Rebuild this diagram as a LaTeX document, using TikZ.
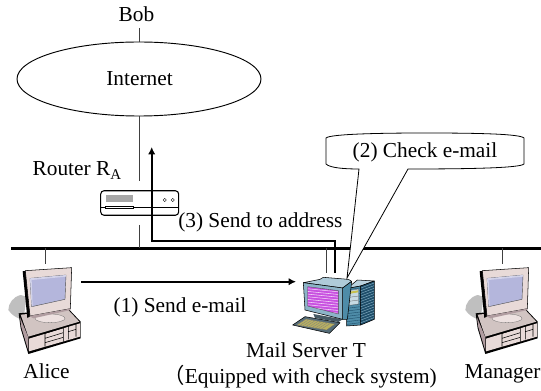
\documentclass[tikz,border=0pt]{standalone}
\usepackage{fontspec}
\setmainfont{Liberation Serif}
\newfontfamily\cjk{Noto Sans CJK SC}
\usetikzlibrary{arrows.meta,shapes.geometric}
\definecolor{pcpink}{HTML}{E8DAD8}
\definecolor{pcmauve}{HTML}{B09CA0}
\definecolor{pcscreen}{HTML}{B4B6DC}
\definecolor{srvblue}{HTML}{4E8CA8}
\definecolor{srvdark}{HTML}{1E4E6A}
\definecolor{srvframe}{HTML}{8CB4C8}
\definecolor{srvpurple}{HTML}{C850E0}
\definecolor{khakitwo}{HTML}{B8B060}
\tikzset{
  txt/.style={font=\fontsize{16}{18}\selectfont,inner sep=0pt},
  thinline/.style={draw=black!75,line width=0.6pt},
  busline/.style={draw=black,line width=1.6pt},
  arrowline/.style={draw=black,line width=1.5pt,-{Latex[length=5.5pt,width=5.5pt]}},
  pcline/.style={draw=black,line width=0.4pt,line join=round},
}
\newcommand{\pcdraw}{%
  \fill[black!25] (62,195) .. controls (40,200) and (25,220) .. (25,240) .. controls (35,255) and (50,265) .. (70,270) -- (80,200) -- cycle;
  \fill[black] (56,250) -- (205,236) -- (242,275) -- (242,325) -- (85,372) -- (62,295) -- cycle;
  \fill[pcmauve] (60,262) -- (85,322) -- (85,362) -- (64,292) -- cycle;
  \fill[pcpink!90!black] (62,254) -- (205,240) -- (238,275) -- (85,320) -- cycle;
  \fill[pcpink] (87,326) -- (240,280) -- (240,320) -- (87,364) -- cycle;
  \draw[pcline] (135,310) -- (135,350) (190,293) -- (190,335) (135,310) -- (190,293) (135,325) -- (190,308) (135,338) -- (190,322);
  \draw[pcline] (205,288) -- (205,328) (228,282) -- (228,320) (205,305) -- (228,298);
  \fill[pcpink!80!white,draw=black!60,line width=0.2pt] (150,265) ellipse [x radius=45,y radius=13];
  \fill[black] (68,124) -- (80,122) -- (92,258) -- (82,264) -- cycle;
  \filldraw[fill=pcpink,pcline] (76,122) -- (215,113) -- (211,236) -- (90,258) -- cycle;
  \fill[pcmauve] (88,258) -- (210,236) -- (212,240) -- (100,265) -- cycle;
  \fill[pcscreen,draw=black!70,line width=0.3pt] (90,145) -- (198,135) -- (195,208) -- (95,230) -- cycle;
  \fill[white!40!pcscreen] (90,145) -- (198,135) -- (198,140) -- (95,150) -- (98,228) -- (95,230) -- cycle;
}
\newcommand{\srvdraw}{%
  \filldraw[fill=srvframe!60!white,pcline] (232,205) -- (262,180) -- (313,183) -- (272,198) -- cycle;
  \filldraw[fill=srvblue,pcline] (230,206) -- (272,198) -- (272,315) -- (230,318) -- cycle;
  \filldraw[fill=srvdark,pcline] (272,198) -- (313,183) -- (313,298) -- (272,315) -- cycle;
  \foreach \yy in {204,212,...,312} {
    \draw[srvdark,line width=0.3pt] (231,\yy+5) -- (271,\yy);
    \draw[srvframe,line width=0.3pt] (273,\yy) -- (312,\yy-15);
  }
  \fill[srvframe!50!white,draw=black!60,line width=0.2pt] (237,212) -- (266,207) -- (266,252) -- (237,256) -- cycle;
  \fill[khakitwo!80!yellow] (240,215) -- (264,211) -- (264,217) -- (240,221) -- cycle;
  \draw[black!60,line width=0.25pt] (237,232) -- (266,228) (237,244) -- (266,240);
  \filldraw[fill=srvframe!60!black,pcline] (68,315) -- (105,290) -- (210,308) -- (178,340) -- cycle;
  \fill[khakitwo,draw=black!60,line width=0.2pt] (80,315) -- (108,297) -- (195,312) -- (170,330) -- cycle;
  \foreach \kk in {0,1,...,8} {\draw[black!50,line width=0.25pt] (108+9*\kk,297+1.7*\kk) -- (80+9*\kk,315+1.7*\kk);}
  \fill[srvframe!50!black] (130,282) -- (218,298) -- (205,306) -- (135,294) -- cycle;
  \filldraw[fill=srvframe!70!white,pcline] (100,188) -- (150,178) -- (160,172) -- (235,178) -- (245,184) -- (218,204) -- cycle;
  \filldraw[fill=srvblue,pcline] (218,204) -- (245,184) -- (232,298) -- (218,298) -- cycle;
  \filldraw[fill=srvframe,pcline] (100,188) -- (218,204) -- (218,298) -- (105,270) -- cycle;
  \begin{scope}
    \clip (113,200) -- (205,212) -- (205,282) -- (113,258) -- cycle;
    \fill[srvpurple] (100,190) rectangle (215,290);
    \foreach \yy in {190,198,...,286} {\draw[white!80!srvpurple,line width=0.4pt] (110,\yy) -- (210,\yy+10);}
  \end{scope}
  \draw[black!70,line width=0.25pt] (113,200) -- (205,212) -- (205,282) -- (113,258) -- cycle;
}
\begin{document}
\begin{tikzpicture}[x=0.75pt,y=-0.75pt]
\useasboundingbox (0,0) rectangle (541,391);
\fill[white] (0,0) rectangle (541,391);
\coordinate (busL) at (11,248.5);
\coordinate (busR) at (541,248.5);
\draw[busline] (busL) -- (busR);
\node[txt,anchor=base] (bob) at (136.5,22) {Bob};
\coordinate (bobEnd) at (139,28);
\node[draw=black,line width=0.7pt,ellipse,inner sep=0pt,minimum width=183pt,minimum height=55.5pt] (internet) at (139,79) {};
\node[txt,anchor=base] (internetlabel) at (139.5,86) {Internet};
\node[txt,anchor=base east] (routerlabel) at (122,176) {Router R$_{\mathrm{A}}$};
\node[draw=black,line width=0.8pt,rounded corners=2.5pt,minimum width=58.5pt,minimum height=18.4pt,inner sep=0pt] (router) at (139.7,203) {};
\fill[black!35] (105.5,195) rectangle (133,202);
\draw[black,line width=0.5pt] (router.west |- 0,207) -- (router.east |- 0,207);
\draw[black,line width=0.5pt,fill=white] (105.5,206) rectangle (133,208.3);
\draw[black,line width=0.3pt] (164.7,200) circle (1.6) (172.7,200) circle (1.6);
\coordinate (inetR) at (139,181);
\coordinate (rBus) at (139,225);
\coordinate (rBusEnd) at (139,248);
\draw[thinline] (bobEnd) -- (internet.north);
\draw[thinline] (internet.south) -- (inetR);
\draw[thinline] (rBus) -- (rBusEnd);
\begin{scope}[x=0.25pt,y=-0.25pt,shift={(0,690)}]
  \pcdraw
\end{scope}
\begin{scope}[x=0.25pt,y=-0.25pt,shift={(1371,690)}]
  \pcdraw
\end{scope}
\begin{scope}[x=0.25pt,y=-0.25pt,shift={(810,660)}]
  \srvdraw
\end{scope}
\coordinate (aliceTop) at (45,264);
\coordinate (aliceBus) at (45,248);
\coordinate (mgrTop) at (502,264);
\coordinate (mgrBus) at (502,248);
\coordinate (srvTop) at (326.5,273);
\coordinate (srvBus) at (326.5,248);
\draw[thinline] (aliceBus) -- (aliceTop);
\draw[thinline] (mgrBus) -- (mgrTop);
\draw[thinline] (srvBus) -- (srvTop);
\coordinate (a1s) at (81,281.7);
\coordinate (a1e) at (296,281.7);
\draw[arrowline] (a1s) -- (a1e);
\coordinate (a3s) at (335,273);
\coordinate (a3m) at (335,240.5);
\coordinate (a3c) at (151.7,240.5);
\coordinate (a3e) at (151.7,147);
\draw[arrowline,line join=miter] (a3s) -- (a3m) -- (a3c) -- (a3e);
\coordinate (tip) at (347,278);
\filldraw[fill=white,draw=black,line width=0.6pt,line join=miter]
  (326,138) .. controls (330,134) and (380,133) .. (425,133)
  .. controls (480,133) and (520,134) .. (524,138) -- (524,164)
  .. controls (520,168) and (470,169) .. (408,169) -- (tip) -- (359,169)
  .. controls (345,169) and (330,168) .. (326,164) -- cycle;
\node[txt,anchor=base] (check) at (425,158) {(2) Check e-mail};
\node[txt,anchor=base west] (send3) at (178,228) {(3) Send to address};
\node[txt,anchor=base] (send1) at (180,312) {(1) Send e-mail};
\node[txt,anchor=base] (alice) at (46.5,378) {Alice};
\node[txt,anchor=base] (manager) at (502.5,378) {Manager};
\node[txt,anchor=base] (mail) at (306,357) {Mail Server T};
\node[txt,anchor=base east] (equip) at (437,383) {{\cjk （}Equipped with check system)};
\end{tikzpicture}
\end{document}
